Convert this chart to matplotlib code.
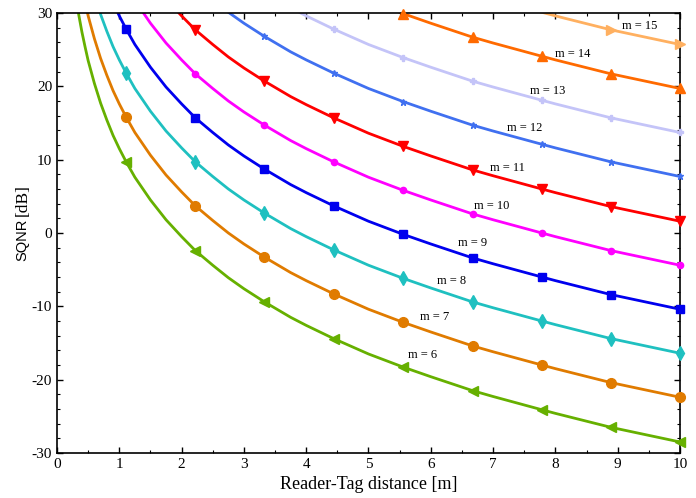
import matplotlib
matplotlib.use("Agg")
import matplotlib.pyplot as plt
import numpy as np

# Reader-Tag distance [m] (shared grid of read-off points)
distance = [0.3, 0.35, 0.4, 0.45, 0.5, 0.6, 0.7, 0.8, 0.9, 1.0, 1.11, 1.25, 1.5, 1.75,
            2.0, 2.22, 2.5, 2.75, 3.0, 3.33, 3.75, 4.0, 4.44, 5.0, 5.56, 6.0, 6.67,
            7.0, 7.78, 8.0, 8.89, 9.5, 10.0]
marker_idx = [10, 15, 19, 22, 24, 26, 28, 30, 32]

sqnr_m6 = [32.4, 29.7, 27.4, 25.4, 23.5, 20.4, 17.7, 15.4, 13.3, 11.5, 9.7, 7.6, 4.5, 1.8, -0.5, -2.4, -4.4, -6.1, -7.6, -9.4, -11.5, -12.6, -14.4, -16.5, -18.3, -19.6, -21.5, -22.3, -24.1, -24.6, -26.5, -27.6, -28.5]
sqnr_m7 = [38.5, 35.8, 33.5, 31.5, 29.6, 26.5, 23.8, 21.5, 19.4, 17.6, 15.8, 13.7, 10.6, 7.9, 5.6, 3.7, 1.7, 0.0, -1.5, -3.3, -5.4, -6.5, -8.3, -10.4, -12.2, -13.5, -15.4, -16.2, -18.0, -18.5, -20.4, -21.5, -22.4]
sqnr_m8 = [44.5, 41.8, 39.5, 37.5, 35.6, 32.5, 29.8, 27.5, 25.4, 23.6, 21.8, 19.7, 16.6, 13.9, 11.6, 9.7, 7.7, 6.0, 4.5, 2.7, 0.6, -0.5, -2.3, -4.4, -6.2, -7.5, -9.4, -10.2, -12.0, -12.5, -14.4, -15.5, -16.4]
sqnr_m9 = [50.5, 47.8, 45.5, 43.5, 41.6, 38.5, 35.8, 33.5, 31.4, 29.6, 27.8, 25.7, 22.6, 19.9, 17.6, 15.7, 13.7, 12.0, 10.5, 8.7, 6.6, 5.5, 3.7, 1.6, -0.2, -1.5, -3.4, -4.2, -6.0, -6.5, -8.4, -9.5, -10.4]
sqnr_m10 = [56.5, 53.8, 51.5, 49.5, 47.6, 44.5, 41.8, 39.5, 37.4, 35.6, 33.8, 31.7, 28.6, 25.9, 23.6, 21.7, 19.7, 18.0, 16.5, 14.7, 12.6, 11.5, 9.7, 7.6, 5.8, 4.5, 2.6, 1.8, 0.0, -0.5, -2.4, -3.5, -4.4]
sqnr_m11 = [62.5, 59.8, 57.5, 55.5, 53.6, 50.5, 47.8, 45.5, 43.4, 41.6, 39.8, 37.7, 34.6, 31.9, 29.6, 27.7, 25.7, 24.0, 22.5, 20.7, 18.6, 17.5, 15.7, 13.6, 11.8, 10.5, 8.6, 7.8, 6.0, 5.5, 3.6, 2.5, 1.6]
sqnr_m12 = [68.6, 65.9, 63.6, 61.6, 59.7, 56.6, 53.9, 51.6, 49.5, 47.7, 45.9, 43.8, 40.7, 38.0, 35.7, 33.8, 31.8, 30.1, 28.6, 26.8, 24.7, 23.6, 21.8, 19.7, 17.9, 16.6, 14.7, 13.9, 12.1, 11.6, 9.7, 8.6, 7.7]
sqnr_m13 = [74.6, 71.9, 69.6, 67.6, 65.7, 62.6, 59.9, 57.6, 55.5, 53.7, 51.9, 49.8, 46.7, 44.0, 41.7, 39.8, 37.8, 36.1, 34.6, 32.8, 30.7, 29.6, 27.8, 25.7, 23.9, 22.6, 20.7, 19.9, 18.1, 17.6, 15.7, 14.6, 13.7]
sqnr_m14 = [80.6, 77.9, 75.6, 73.6, 71.7, 68.6, 65.9, 63.6, 61.5, 59.7, 57.9, 55.8, 52.7, 50.0, 47.7, 45.8, 43.8, 42.1, 40.6, 38.8, 36.7, 35.6, 33.8, 31.7, 29.9, 28.6, 26.7, 25.9, 24.1, 23.6, 21.7, 20.6, 19.7]
sqnr_m15 = [86.6, 83.9, 81.6, 79.6, 77.7, 74.6, 71.9, 69.6, 67.5, 65.7, 63.9, 61.8, 58.7, 56.0, 53.7, 51.8, 49.8, 48.1, 46.6, 44.8, 42.7, 41.6, 39.8, 37.7, 35.9, 34.6, 32.7, 31.9, 30.1, 29.6, 27.7, 26.6, 25.7]

m_values = [6, 7, 8, 9, 10, 11, 12, 13, 14, 15]
series = [sqnr_m6, sqnr_m7, sqnr_m8, sqnr_m9, sqnr_m10, sqnr_m11, sqnr_m12, sqnr_m13, sqnr_m14, sqnr_m15]
colors = ['#66b000', '#e07b00', '#1fc0c0', '#0000ee', '#ff00ff', '#ff0000', '#4070f0', '#c4c4f8', '#ff6a00', '#ffb060']
markers = ['<', 'o', 'd', 's', 'o', 'v', '*', 'P', '^', '>']
msizes = [7, 7, 7, 6, 4.5, 7, 5, 4, 7, 7]

# label positions (x, y) in data coords
label_x = [5.63, 5.83, 6.1, 6.44, 6.69, 6.95, 7.22, 7.6, 8.0, 9.07]
label_y = [-16.7, -11.5, -6.6, -1.4, 3.7, 8.9, 14.3, 19.4, 24.4, 28.2]

plt.rcParams['font.family'] = ['Liberation Serif', 'DejaVu Serif']
plt.rcParams['mathtext.fontset'] = 'stix'
plt.rcParams['axes.unicode_minus'] = False

fig = plt.figure(figsize=(6.96, 4.98), dpi=100)
ax = fig.add_axes([0.0819, 0.0904, 0.8951, 0.8836])

x = np.array(distance)
for m, ys, c, mk, ms, lx, ly in zip(m_values, series, colors, markers, msizes, label_x, label_y):
    y = np.array(ys)
    ax.plot(x, y, color=c, lw=2.0, zorder=2)
    sel = [i for i in marker_idx if -30 <= y[i] <= 30]
    ax.plot(x[sel], y[sel], ls='none', marker=mk, ms=ms, color=c, mec=c, clip_on=False, zorder=3)
    ax.text(lx, ly, f"m = {m}", fontsize=9, ha='left', va='center')

ax.set_xlim(0, 10)
ax.set_ylim(-30, 30)
ax.set_xticks(range(0, 11))
ax.set_yticks(range(-30, 31, 10))
ax.set_xticks(np.arange(0, 10.01, 0.5), minor=True)
ax.set_yticks(np.arange(-30, 30.01, 2), minor=True)
ax.tick_params(which='both', direction='in', top=True, right=True, labelsize=11)
ax.tick_params(which='major', length=4, width=1)
ax.tick_params(which='minor', length=2.5, width=0.8)
for s in ax.spines.values():
    s.set_linewidth(1.2)

ax.set_xlabel("Reader-Tag distance [m]", fontsize=13, labelpad=4)
# y label: "SQNR" in sans, "[dB]" in serif
fig.text(0.032, (498 - 261) / 498, "SQNR", rotation=90, ha='center', va='bottom',
         fontsize=10.5, family=['Liberation Sans', 'DejaVu Sans'])
fig.text(0.032, (498 - 216) / 498, "[dB]", rotation=90, ha='center', va='bottom',
         fontsize=12.5)

fig.savefig("out.png", dpi=100)
